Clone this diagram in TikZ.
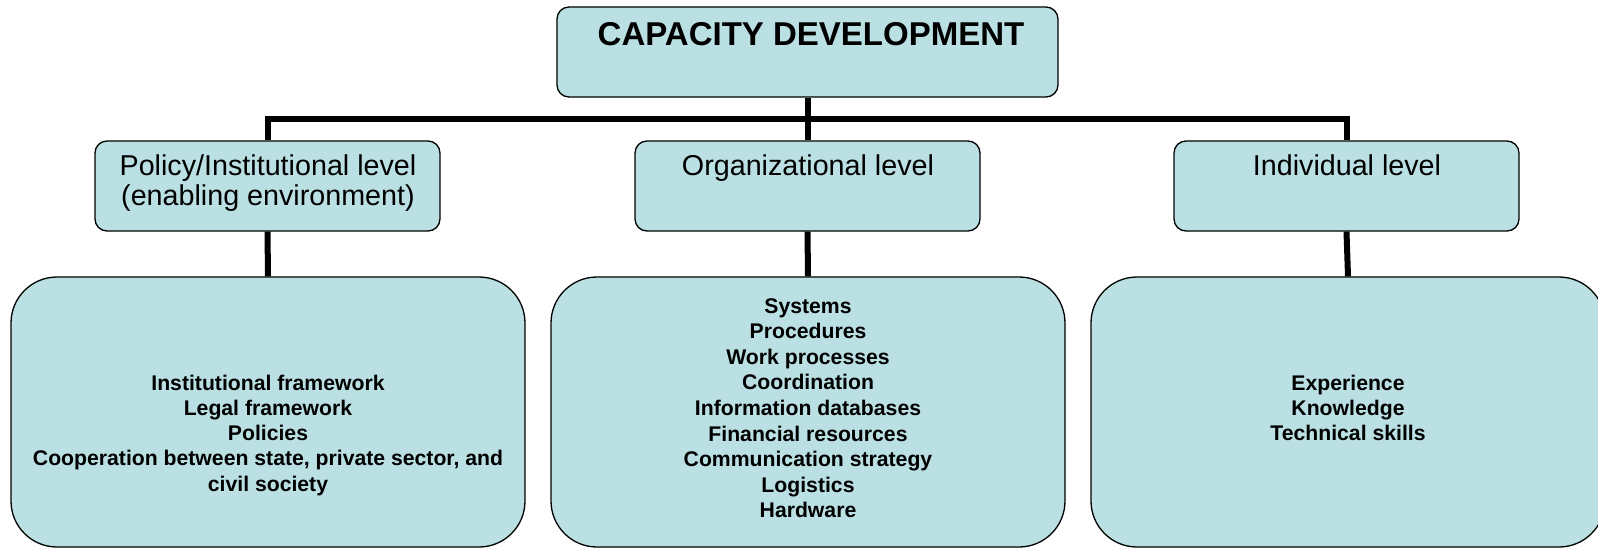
\documentclass[tikz,border=0pt]{standalone}
\usepackage{fontspec}
\setmainfont{Liberation Sans}
\definecolor{boxfill}{RGB}{186,224,227}
\begin{document}
\begin{tikzpicture}[x=1pt,y=1pt,
  card/.style={draw=black, line width=1.3pt, fill=boxfill, rounded corners=12pt, inner sep=0pt},
  bigcard/.style={card, rounded corners=46pt, minimum width=514pt, minimum height=270pt},
  levelcard/.style={card, minimum width=345pt, minimum height=90pt},
  titletext/.style={inner sep=0pt, anchor=base, font=\fontsize{33}{40}\selectfont\bfseries},
  leveltext/.style={inner sep=0pt, anchor=base, font=\fontsize{28.7}{33}\selectfont},
  itemtext/.style={inner sep=0pt, anchor=base, font=\fontsize{21.2}{25}\selectfont\bfseries},
  conn/.style={line width=6pt, draw=black}]
\path[use as bounding box] (0,0) rectangle (1598,-551);
\clip (0,0) rectangle (1598,-551);

% top box
\node[card, minimum width=501pt, minimum height=90pt] (top) at (807.5,-52) {};
\node[titletext] (ttl) at (811,-46) {CAPACITY DEVELOPMENT};

% level boxes
\node[levelcard] (pol) at (267.5,-186) {};
\node[levelcard] (org) at (807.5,-186) {};
\node[levelcard] (ind) at (1346.5,-186) {};
\node[leveltext] (polA) at (268,-175) {Policy/Institutional level};
\node[leveltext] (polB) at (268,-205) {(enabling environment)};
\node[leveltext] (orgA) at (808,-175) {Organizational level};
\node[leveltext] (indA) at (1347,-175) {Individual level};

% detail boxes
\node[bigcard] (polx) at (268,-412) {};
\node[bigcard] (orgx) at (808,-412) {};
\node[bigcard] (indx) at (1348,-412) {};

\foreach \t [count=\i] in {Institutional framework, Legal framework, Policies,
    {Cooperation between state, private sector, and}, civil society}
  \node[itemtext] (pi\i) at (268,{-390-25.3*(\i-1)}) {\t};
\foreach \t [count=\i] in {Systems, Procedures, Work processes, Coordination,
    Information databases, Financial resources, Communication strategy,
    Logistics, Hardware}
  \node[itemtext] (oi\i) at (808,{-313-25.6*(\i-1)}) {\t};
\foreach \t [count=\i] in {Experience, Knowledge, Technical skills}
  \node[itemtext] (ii\i) at (1348,{-390-25.2*(\i-1)}) {\t};

% connectors
\coordinate (bus) at (0,-119);
\draw[conn] (top.south) -- (org.north);
\draw[conn] (pol.north) -- (pol.north |- bus) -- (ind.north |- bus) -- (ind.north);
\draw[conn] (pol.south) -- (polx.north);
\draw[conn] (org.south) -- (orgx.north);
\draw[conn] (ind.south) -- (indx.north);
\end{tikzpicture}
\end{document}
